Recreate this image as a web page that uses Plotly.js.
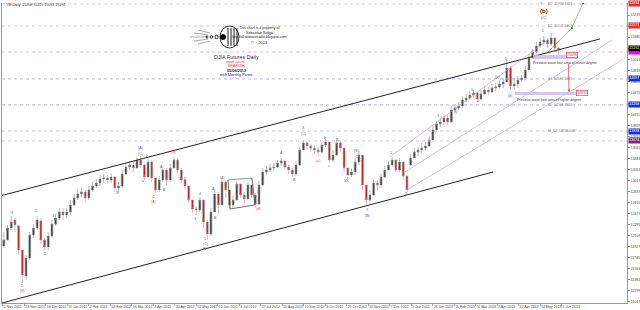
<!DOCTYPE html>
<html><head><meta charset="utf-8">
<script src="https://cdn.plot.ly/plotly-3.0.1.min.js"></script>
<style>html,body{margin:0;padding:0;background:#fff}#chart{width:640px;height:310px}</style>
</head><body><div id="chart"></div>
<script>
// ---- DATA ----
const openP = [11941,12040,12238,12370,12271,11875,11446,11743,12123,12238,
12354,12040,11925,12106,12304,12403,12502,12453,12502,12618,
12733,12799,12832,12733,12865,12931,12981,13047,13063,13030,
13080,12898,12931,13129,13245,13278,13228,13360,13278,13080,
13327,13063,12865,13030,13195,13030,13228,13360,13195,13030,
12931,12700,12552,12535,12700,12337,12139,12502,12799,12618,
12997,12865,12618,12700,12964,12783,12717,12948,12783,12634,
12948,13162,13195,13228,13245,13311,13344,13245,13195,13129,
13278,13525,13641,13591,13558,13525,13492,13608,13657,13360,
13443,13641,13558,13228,13113,13162,13327,13443,12948,12700,
12783,12981,12948,13080,13195,13278,13360,13195,13327,13096,
13278,13393,13492,13525,13558,13591,13690,13855,13954,13987,
14053,13987,14185,14218,14251,14350,14383,14433,14466,14367,
14449,14515,14482,14548,14565,14614,14647,14878,14581,14614,
14680,14713,14845,15043,15142,15241,15307,15340,15274,15373,
15208];
const highP = [12172,12288,12436,12403,12288,11875,11793,12172,12304,12436,
12403,12073,12172,12370,12469,12568,12568,12568,12700,12799,
12865,12898,12865,12931,12997,13047,13113,13129,13113,13146,
13096,12997,13195,13311,13344,13327,13410,13426,13294,13377,
13360,13063,13096,13245,13228,13294,13410,13393,13228,13063,
12948,12700,12601,12750,12700,12370,12568,12865,12832,13063,
13030,12865,12766,13014,12964,12832,12997,12948,12816,13014,
13228,13261,13294,13311,13360,13393,13344,13278,13228,13344,
13575,13690,13674,13624,13608,13575,13657,13707,13657,13525,
13690,13674,13558,13228,13228,13393,13509,13443,12948,12865,
13030,13030,13129,13261,13344,13410,13360,13393,13327,13096,
13459,13558,13575,13641,13657,13756,13921,14004,14053,14119,
14103,14251,14284,14317,14416,14449,14499,14515,14482,14515,
14581,14565,14614,14631,14680,14713,15010,14911,14713,14746,
14763,14911,15109,15192,15307,15373,15406,15373,15456,15390,
15225];
const lowP = [11908,12040,12205,12172,11793,11331,11380,11710,12073,12205,
11974,11875,11875,12073,12271,12370,12370,12403,12453,12601,
12700,12750,12667,12700,12832,12898,12931,12981,12964,12981,
12832,12816,12898,13113,13195,13162,13228,13228,13030,13063,
12997,12816,12832,12997,12931,12997,13228,13129,12981,12865,
12651,12486,12453,12502,12238,12040,12106,12502,12469,12618,
12733,12552,12568,12700,12733,12651,12700,12733,12585,12618,
12931,13113,13162,13162,13228,13261,13195,13129,13080,13096,
13261,13525,13525,13492,13459,13426,13476,13575,13311,13327,
13426,13492,13162,13047,13080,13113,13278,12865,12618,12634,
12766,12865,12898,13063,13179,13245,13146,13162,13030,12816,
13261,13393,13426,13476,13525,13575,13690,13822,13905,13938,
13938,13971,14152,14185,14218,14301,14350,14383,14317,14350,
14433,14433,14466,14499,14532,14548,14647,14515,14515,14548,
14647,14680,14845,15043,15109,15208,15274,15208,15241,15142,
15093];
const closeP = [12040,12238,12337,12288,11875,11463,11743,12123,12238,12370,
12040,11925,12106,12304,12403,12502,12453,12502,12618,12733,
12799,12832,12733,12865,12931,12981,13047,13063,13030,13080,
12898,12931,13129,13245,13278,13228,13360,13278,13080,13327,
13063,12865,13030,13195,13030,13228,13360,13195,13030,12931,
12700,12552,12535,12700,12337,12139,12502,12799,12618,12997,
12865,12618,12700,12964,12783,12717,12948,12783,12634,12948,
13162,13195,13228,13245,13311,13344,13245,13195,13129,13278,
13525,13641,13591,13558,13525,13492,13608,13657,13360,13443,
13641,13558,13228,13113,13162,13327,13443,12948,12700,12783,
12981,12948,13080,13195,13278,13360,13195,13327,13096,12865,
13393,13492,13525,13558,13591,13690,13855,13954,13987,14053,
13987,14185,14218,14251,14350,14383,14433,14466,14367,14449,
14515,14482,14548,14565,14614,14647,14878,14581,14614,14680,
14713,14845,15043,15142,15241,15307,15340,15274,15373,15208,
15192];

const tickIdx = [-0.27,5.54,11.35,17.16,22.97,28.78,34.59,40.4,46.22,52.03,57.84,63.65,69.46,75.27,81.08,86.89,92.7,98.51,104.32,110.14,115.95,121.76,127.57,133.38,139.19,145.0,150.81];
const tickDates = ["1 Nov 2011","23 Nov 2011","16 Dec 2011","11 Jan 2012","2 Feb 2012","24 Feb 2012","16 Mar 2012","9 Apr 2012","30 Apr 2012","22 May 2012","12 Jun 2012","3 Jul 2012","27 Jul 2012","20 Aug 2012","11 Sep 2012","3 Oct 2012","25 Oct 2012","13 Nov 2012","7 Dec 2012","2 Jan 2013","24 Jan 2013","15 Feb 2013","11 Mar 2013","2 Apr 2013","22 Apr 2013","14 May 2013","5 Jun 2013"];
const priceTicks = [11017,11199,11381,11563,11745,11927,12109,12291,12473,12655,12837,13019,13201,13383,13565,13747,13929,14111,14293,14475,14657,14839,15021,15203,15385,15567,15749];

// monthly pivot levels and their line colours
const pivotLevels = [15934, 15571, 15142, 14697, 14268, 13838, 13674];
const pivotColors = ['#ecb8c8', '#c8c8c8', '#eaa8ea', '#b0b0ec', '#a8a8ec', '#c0c0f0', '#d8b8e4'];
const pivotNames = ['R2  15934.3333', 'R1  15571.6667', '', 'S1  14697.3333', 'S2  14268.3333', 'M_S2  13838.0097', ''];
const boxLevels = [15934, 15571, 15142, 14697, 14268, 13838, 13674];
const boxColors = ['#e03030', '#e03030', '#ff00ff', '#1830e0', '#1830e0', '#1830e0', '#802080'];

// trend lines [i0, p0, i1, p1]
const channelUpper = [-1.04, 12766, 161.2, 15357];
const channelLower = [-1.04, 10991, 132.3, 13162];
const wedgeLines = [[60.6,13030,67.1,13063],[61.2,12552,67.9,12618],[60.6,13030,61.2,12552],[67.1,13063,67.9,12618]];
const purpleLines = [[104.4,13410,147.1,15340],[108.5,13162,164.5,15340],[109.0,12865,167.2,15010]];
const greenLines = [[147.1,15142,153.6,15538],[153.6,15538,156.6,15950]];
const zoneLesser = [143.1, 155.0, 15027, 15093];
const zoneHigher = [138.2, 155.0, 14432, 14482];
const targetLesser = 15096;
const targetHigher = 14532;

// wave labels [xpx, ypx, text, colour]
const waveLabels = [
 [12,213,'3','#666'],[22,286,'5','#666'],[22,291,'(B)','#b07050'],[36,211,'1','#666'],[45,254,'2','#666'],
 [53,216,'3','#666'],[117,193,'4','#666'],[140,148,'(A)','#5060c0'],[140,154,'(C)','#b07050'],[143,181,'a','#666'],
 [147,156,'b','#666'],[153,197,'C','#666'],[153,202,'(A)','#b07050'],[161,167,'A','#666'],[165,190,'B','#666'],
 [173,152,'(B)','#b07050'],[180,179,'1','#666'],[185,179,'2','#666'],[195,219,'3','#666'],[200,194,'4','#666'],
 [205,239,'5','#666'],[205,244,'(C)','#b07050'],[205,249,'W','#d03030'],[213,189,'A','#666'],[215,218,'B','#666'],
 [222,178,'(A)','#b07050'],[258,209,'(B)','#b07050'],[281,153,'A','#666'],[294,180,'B','#666'],[303,128,'X','#666'],
 [303,134,'(C)','#b07050'],[318,161,'(a)','#b07050'],[325,138,'b','#666'],[329,166,'c','#666'],[337,140,'B','#666'],
 [346,181,'XX','#666'],[357,151,'(B)','#b07050'],[357,157,'C','#666'],[367,210,'Y','#666'],[367,216,'(B)','#5060c0'],
 [391,153,'1','#666'],[406,194,'2','#666'],[438,116,'3','#666'],[455,112,'(i)','#5060c0'],[472,90,'1','#666'],
 [478,101,'4','#666'],[497,77,'(a)','#5060c0'],[506,59,'5','#666'],[510,96,'(b)','#5060c0'],[543,31,'5','#666'],[541,4,'Y','#666']
];

// ---- helpers for pixel-placed decorations ----
const PL = 2, PW = 625, PT = 3, PH = 300;
const px = x => (x - PL) / PW;
const py = y => (PT + PH - y) / PH;
const FONT = 'Liberation Sans, Arial, sans-serif';

const bars = openP.map((_, i) => i);
const n = closeP.length;

const traces = [{
  type: 'candlestick', x: bars, open: openP, high: highP, low: lowP, close: closeP,
  increasing: {line: {color: '#8a8a8a', width: 0.6}, fillcolor: '#3a3a3a'},
  decreasing: {line: {color: '#9a9a9a', width: 0.6}, fillcolor: '#c81818'},
  whiskerwidth: 0, hoverinfo: 'none', showlegend: false
}];

const shapes = [];
pivotLevels.forEach((p, k) => shapes.push({type:'line', xref:'paper', x0:0, x1:1, yref:'y', y0:p, y1:p,
  line:{color:pivotColors[k], width:0.9, dash:'dot'}}));
const seg = (s, color, w, dash) => shapes.push({type:'line', xref:'x', yref:'y', x0:s[0], y0:s[1], x1:s[2], y1:s[3],
  line:{color, width:w, dash:dash||'solid'}});
seg(channelUpper, '#222', 1);
seg(channelLower, '#222', 1);
wedgeLines.forEach((s, k) => seg(s, k === 0 ? '#3a8a3a' : '#333', 0.7));
purpleLines.forEach(s => seg(s, '#b898d8', 0.6));
greenLines.forEach(s => seg(s, '#60a060', 0.6));
[zoneLesser, zoneHigher].forEach(z => shapes.push({type:'rect', xref:'x', yref:'y', x0:z[0], x1:z[1], y0:z[2], y1:z[3],
  fillcolor:'#cdbbe8', line:{width:0}, opacity:0.85}));
// logo (decoration)
[[190,37,206,37],[194,33,208,35],[194,41,208,39],[198,30,210,33],[198,44,210,41]].forEach(l =>
  shapes.push({type:'line', xref:'paper', yref:'paper', x0:px(l[0]), y0:py(l[1]), x1:px(l[2]), y1:py(l[3]), line:{color:'#555', width:0.5}}));
[[207,37,1.0,'#fff'],[211.5,37,1.3,'#fff'],[216.5,37,1.7,'#fff'],[223,37,2.6,'#000']].forEach(c =>
  shapes.push({type:'circle', xref:'paper', yref:'paper', x0:px(c[0]-c[2]), x1:px(c[0]+c[2]), y0:py(c[1]+c[2]), y1:py(c[1]-c[2]),
   fillcolor:c[3], line:{color:'#000', width:0.8}}));
shapes.push({type:'circle', xref:'paper', yref:'paper', x0:px(220), x1:px(239), y0:py(48), y1:py(26), line:{color:'#000', width:0.8}, fillcolor:'rgba(0,0,0,0)'});
[228,231,234,237].forEach(x => shapes.push({type:'line', xref:'paper', yref:'paper', x0:px(x), x1:px(x), y0:py(28), y1:py(46), line:{color:'#000', width:0.9}}));
// green target dots
greenLines.forEach(s => shapes.push({type:'circle', xref:'x', yref:'y', xsizemode:'pixel', ysizemode:'pixel', xanchor:s[2], yanchor:s[3],
  x0:-1.2, x1:1.2, y0:-1.2, y1:1.2, fillcolor:'#40a040', line:{width:0}}));

const ann = [];
const txt = (x, y, text, size, color, extra) => ann.push(Object.assign({xref:'paper', yref:'paper', x:px(x), y:py(y), text,
  showarrow:false, font:{family:FONT, size, color}, xanchor:'center', yanchor:'middle'}, extra||{}));

txt(4, 5, `YM,Daily  ${openP[n-1]} ${highP[n-1]} ${lowP[n-1]} ${closeP[n-1]}`, 3.6, '#333', {xanchor:'left'});
txt(259, 28, 'This chart is a property of', 3.6, '#222');
txt(259, 32.5, 'Sebastian Seliga', 3.6, '#222');
txt(259, 37, 'http://elliottwavetrader.blogspot.com/', 3.4, '#222');
txt(259, 43, '©    2013', 4, '#222');
txt(236, 57, 'DJIA Futures Daily', 5.4, '#334');
txt(236, 62, 'main count', 3.8, '#e04040');
txt(236, 66, 'BEARISH', 3.8, '#e04040');
txt(236, 70.5, '<b>05/06/2013</b>', 3.8, '#101070');
txt(236, 75, 'with Monthly Pivots', 3.8, '#202080');

waveLabels.forEach(w => txt(w[0], w[1], w[2], 3.6, w[3]));
txt(544, 11, '<b>(b)</b>', 6, '#333');
txt(544, 17.5, '(C)', 3.8, '#5060c0');

pivotLevels.forEach((p, k) => { if (pivotNames[k]) ann.push({xref:'x', yref:'y', x:146.5, y:p, text:pivotNames[k], showarrow:false,
  xanchor:'left', yanchor:'middle', font:{family:FONT, size:3.4, color:'#888'}}); });

boxLevels.forEach((p, k) => ann.push({xref:'paper', yref:'y', x:1, y:p, text:String(p), showarrow:false, xanchor:'left', yanchor:'middle',
  xshift:0.5, bgcolor:boxColors[k], borderpad:0.3, font:{family:FONT, size:3.6, color:'#fff'}}));
ann.push({xref:'paper', yref:'y', x:1, y:closeP[n-1], text:String(closeP[n-1]), showarrow:false, xanchor:'left', yanchor:'middle',
  xshift:0.5, bgcolor:'#000', borderpad:0.3, font:{family:FONT, size:3.6, color:'#fff'}});

ann.push({xref:'x', yref:'y', x:142.5, y:zoneLesser[2], text:'Previous wave four area of lesser degree', showarrow:false,
  xanchor:'left', yanchor:'top', yshift:-0.5, font:{family:FONT, size:3.5, color:'#333'}});
ann.push({xref:'x', yref:'y', x:138.2, y:zoneHigher[2], text:'Previous wave four area of higher degree', showarrow:false,
  xanchor:'left', yanchor:'top', yshift:-0.5, font:{family:FONT, size:3.5, color:'#333'}});
ann.push({xref:'x', yref:'y', x:153.6, y:zoneLesser[3], text:String(targetLesser), showarrow:false, xanchor:'center', yanchor:'middle',
  bgcolor:'#fff', bordercolor:'#e03030', borderwidth:0.6, borderpad:0.3, font:{family:FONT, size:3.6, color:'#e03030'}});
ann.push({xref:'x', yref:'y', x:156.4, y:zoneHigher[3]-20, text:String(targetHigher), showarrow:false, xanchor:'center', yanchor:'middle',
  bgcolor:'#fff', bordercolor:'#e03030', borderwidth:0.6, borderpad:0.3, font:{family:FONT, size:3.6, color:'#e03030'}});
ann.push({xref:'x', yref:'y', x:152.8, y:zoneHigher[3], ax:-0.5, ay:-30, axref:'pixel', ayref:'pixel', text:'', showarrow:true,
  arrowcolor:'#e03030', arrowwidth:0.7, arrowhead:2, arrowsize:0.7});

const layout = {
  width: 640, height: 310, margin: {l: PL, r: 640 - PL - PW, t: PT, b: 310 - PT - PH, pad: 0},
  paper_bgcolor: '#ffffff', plot_bgcolor: '#ffffff', showlegend: false,
  xaxis: {range: [-0.5, 168.5], tickmode: 'array', tickvals: tickIdx, ticktext: tickDates, ticklabelposition: 'outside right',
    tickfont: {family: FONT, size: 3.5, color: '#444'}, ticks: 'outside', ticklen: 2, tickcolor: '#999', tickangle: 0,
    showgrid: false, zeroline: false, showline: true, linecolor: '#999', linewidth: 1, rangeslider: {visible: false}, fixedrange: true},
  yaxis: {side: 'right', range: [11000, 15950], tickmode: 'array', tickvals: priceTicks, ticktext: priceTicks.map(String),
    tickfont: {family: FONT, size: 3.5, color: '#444'}, ticks: 'outside', ticklen: 2, tickcolor: '#999',
    showgrid: false, zeroline: false, showline: true, mirror: true, linecolor: '#999', linewidth: 1, fixedrange: true},
  shapes, annotations: ann
};
Plotly.newPlot('chart', traces, layout, {staticPlot: true, displayModeBar: false});
</script></body></html>
